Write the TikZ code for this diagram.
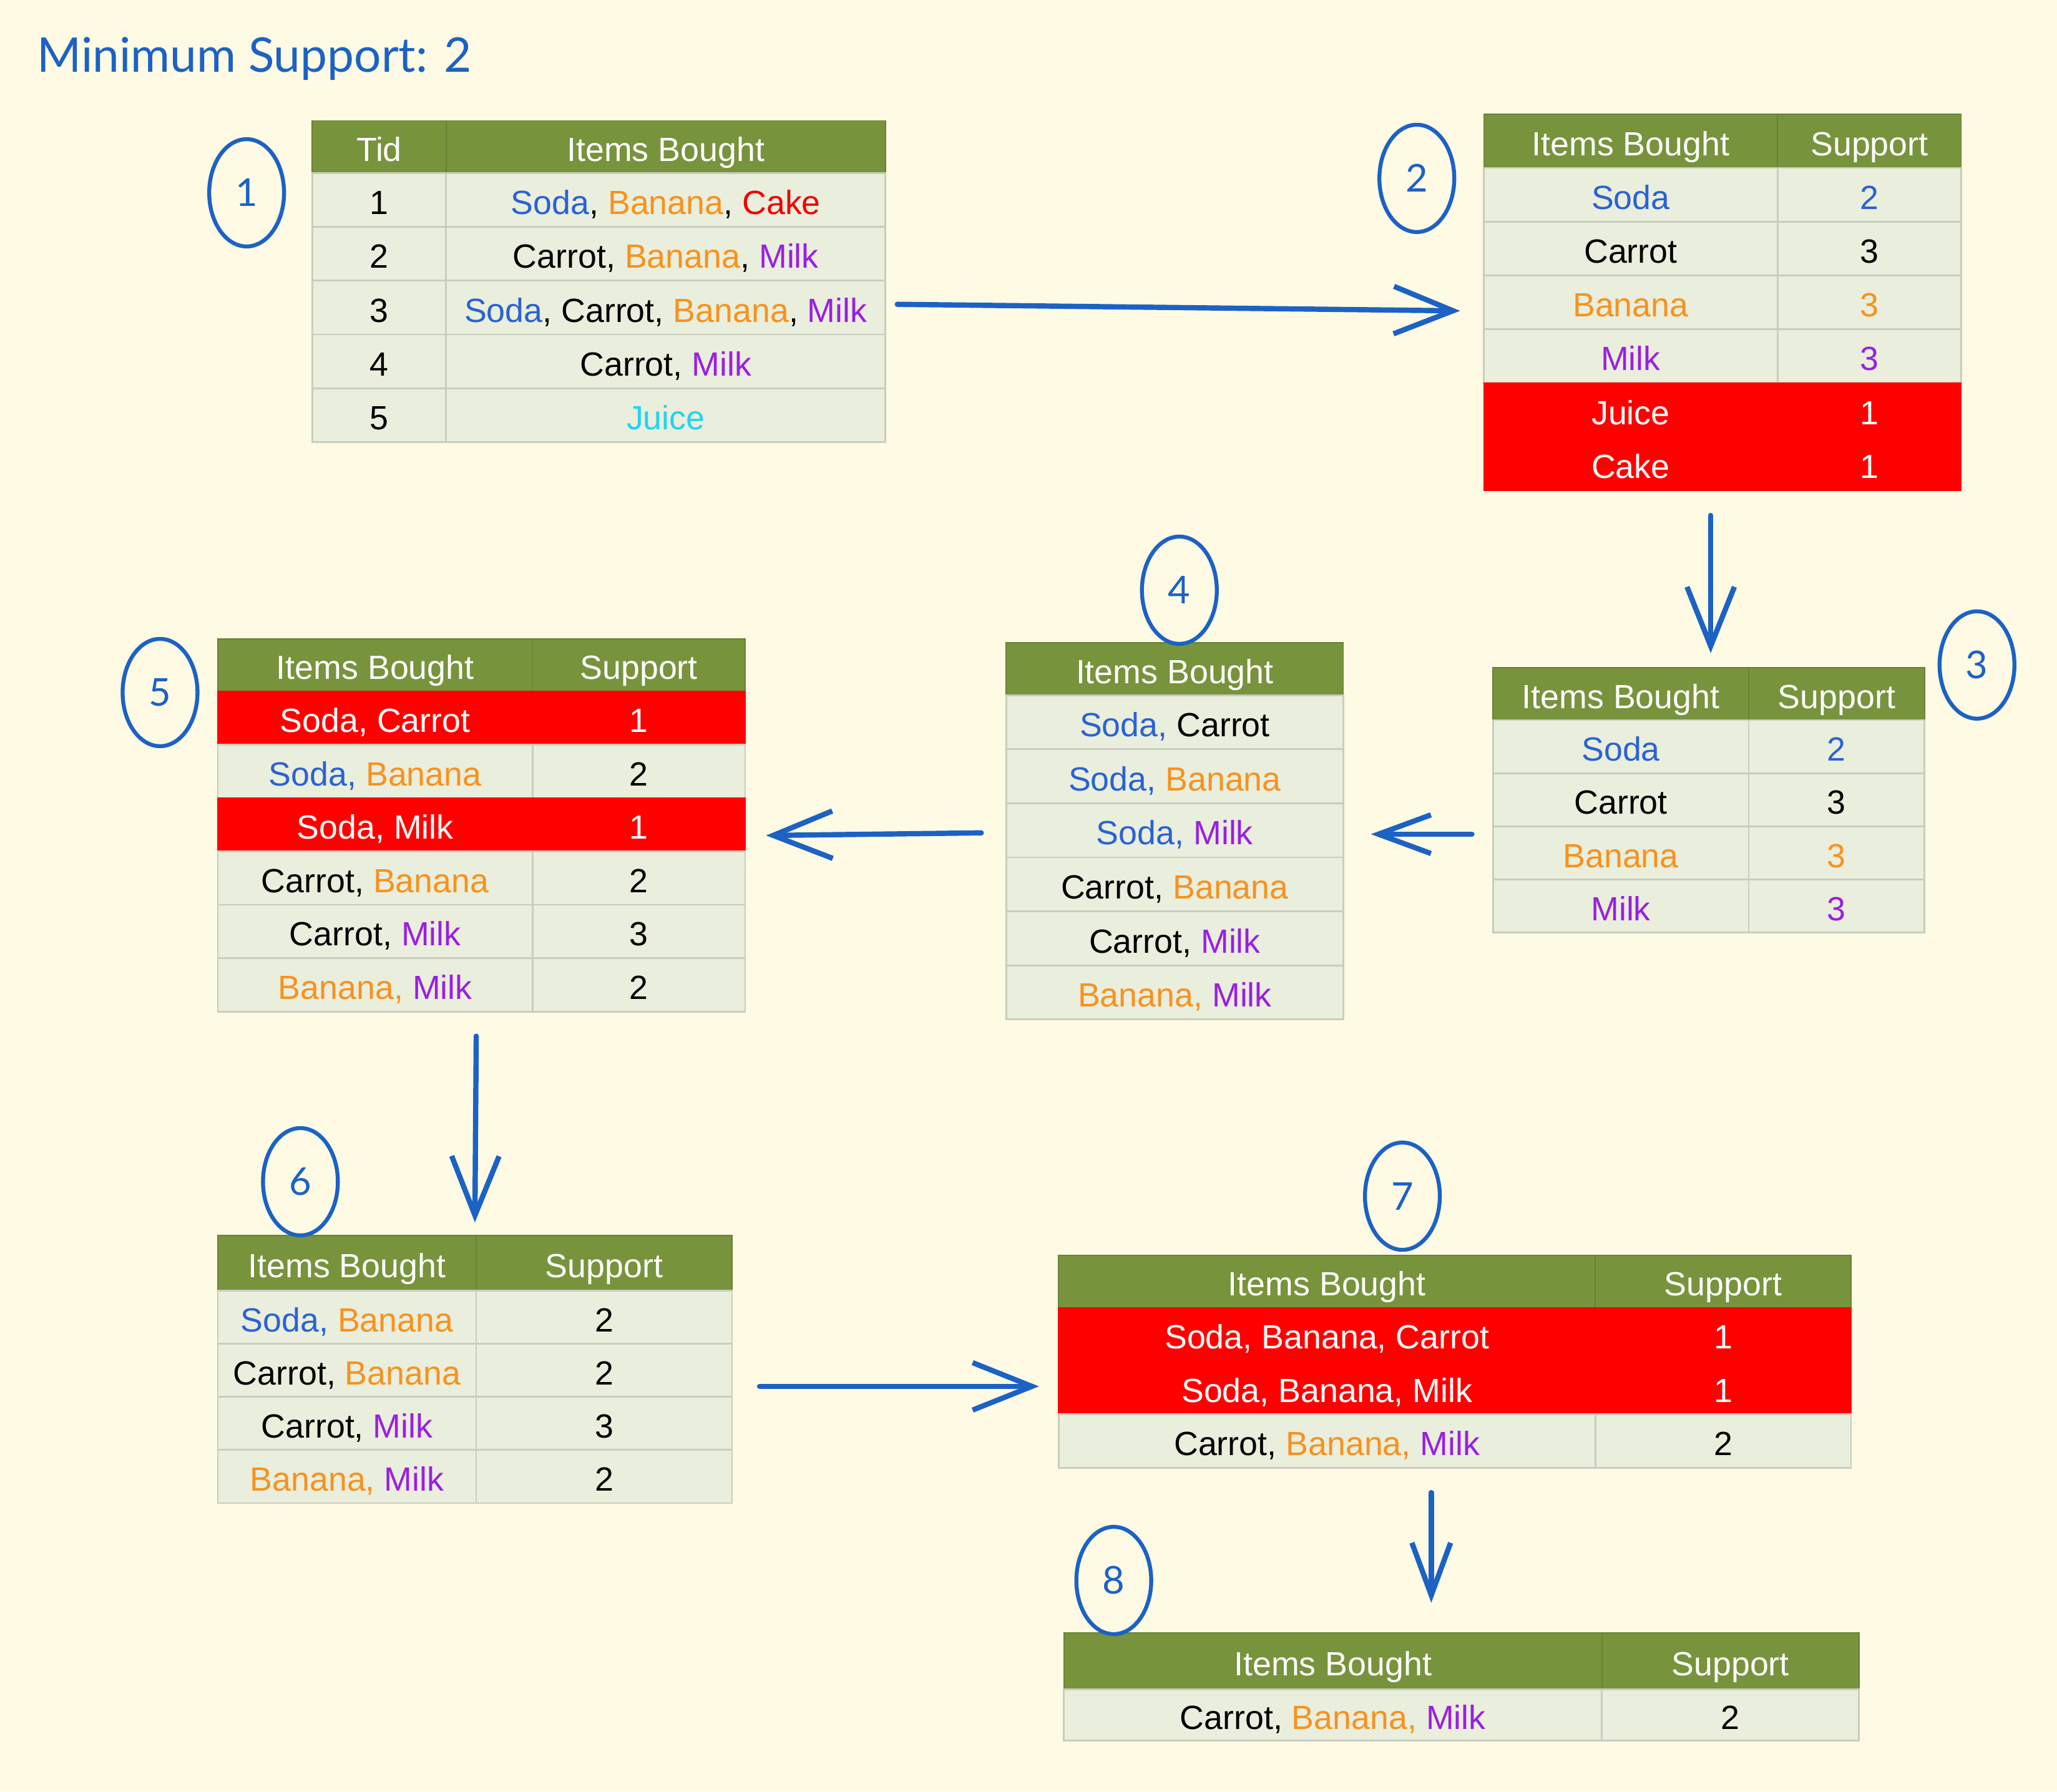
\documentclass[tikz,border=0pt]{standalone}
\usepackage{fontspec}
\setmainfont{Liberation Sans}
\newfontfamily\ringfont{Lato}
\usetikzlibrary{arrows.meta,shapes.geometric}

\definecolor{paper}{HTML}{FEFAE4}
\definecolor{headgreen}{HTML}{77933C}
\definecolor{rowgreen}{HTML}{EAEEDC}
\definecolor{rowline}{HTML}{C9CDBF}
\definecolor{cutred}{HTML}{FF0000}
\definecolor{penblue}{HTML}{1C62C4}
\definecolor{soda}{HTML}{2A62D4}
\definecolor{banana}{HTML}{F7921E}
\definecolor{milk}{HTML}{9A1FE2}
\definecolor{cake}{HTML}{F00000}
\definecolor{juice}{HTML}{25D2F2}

\newcommand{\ink}[2]{\textcolor{#1}{#2}}
% one table cell: name, x1, y1, x2, y2, style, text
\newcommand{\tcell}[7]{\path[#6] ({#2},{#3}) rectangle ({#4},{#5}) node[midway,celltext] (#1) {#7};}

\tikzset{
  hcell/.style={fill=headgreen, draw=headgreen!88!black, line width=0.5pt, every node/.style={text=white}},
  bcell/.style={fill=rowgreen, draw=rowline, line width=0.8pt},
  rcell/.style={fill=cutred, draw=cutred, line width=0.5pt, every node/.style={text=white}},
  celltext/.style={inner sep=0pt, text height=13.2pt, text depth=0pt, font=\fontsize{15.3}{18}\selectfont},
  numring/.style={ellipse, draw=penblue, line width=1.8pt, inner sep=0pt, minimum width=1.2cm, minimum height=1.72cm,
    text=penblue, text height=12.5pt, text depth=0pt, font=\ringfont\fontsize{17.5}{20}\selectfont},
  flow/.style={draw=penblue, line width=2.4pt, line cap=round, line join=round, -{Straight Barb[length=0.95cm, width=0.76cm]}},
  flowsmall/.style={flow, -{Straight Barb[length=0.84cm, width=0.62cm]}}
}

\begin{document}
\begin{tikzpicture}[x=0.02102cm, y=-0.02102cm]
\useasboundingbox (0,0) rectangle (1568,1366);
\fill[paper] (0,0) rectangle (1568,1366);

\node[anchor=base west, inner sep=0pt, text=penblue, font=\ringfont\fontsize{21.8}{26}\selectfont] (title) at (28,55) {Minimum Support: 2};

% 1: transactions
\tcell{t1h1}{238}{92}{340}{132}{hcell}{Tid}
\tcell{t1h2}{340}{92}{675}{132}{hcell}{Items Bought}
\foreach \i/\itm in {1/{\ink{soda}{Soda}, \ink{banana}{Banana}, \ink{cake}{Cake}},
    2/{Carrot, \ink{banana}{Banana}, \ink{milk}{Milk}},
    3/{\ink{soda}{Soda}, Carrot, \ink{banana}{Banana}, \ink{milk}{Milk}},
    4/{Carrot, \ink{milk}{Milk}},
    5/{\ink{juice}{Juice}}}{
  \tcell{t1a\i}{238}{132+41*(\i-1)}{340}{132+41*\i}{bcell}{\i}
  \tcell{t1b\i}{340}{132+41*(\i-1)}{675}{132+41*\i}{bcell}{\itm}
}

% 2: single items
\tcell{t2h1}{1131}{87}{1355}{128}{hcell}{Items Bought}
\tcell{t2h2}{1355}{87}{1495}{128}{hcell}{Support}
\foreach \i/\rowst/\itm/\cnt in {1/bcell/{\ink{soda}{Soda}}/{\ink{soda}{2}},
    2/bcell/Carrot/3,
    3/bcell/{\ink{banana}{Banana}}/{\ink{banana}{3}},
    4/bcell/{\ink{milk}{Milk}}/{\ink{milk}{3}},
    5/rcell/Juice/1,
    6/rcell/Cake/1}{
  \tcell{t2a\i}{1131}{128+41*(\i-1)}{1355}{128+41*\i}{\rowst}{\itm}
  \tcell{t2b\i}{1355}{128+41*(\i-1)}{1495}{128+41*\i}{\rowst}{\cnt}
}

% 3: frequent items
\tcell{t3h1}{1138}{509}{1333}{549}{hcell}{Items Bought}
\tcell{t3h2}{1333}{509}{1467}{549}{hcell}{Support}
\foreach \i/\itm/\cnt in {1/{\ink{soda}{Soda}}/{\ink{soda}{2}},
    2/Carrot/3,
    3/{\ink{banana}{Banana}}/{\ink{banana}{3}},
    4/{\ink{milk}{Milk}}/{\ink{milk}{3}}}{
  \tcell{t3a\i}{1138}{549+40.5*(\i-1)}{1333}{549+40.5*\i}{bcell}{\itm}
  \tcell{t3b\i}{1333}{549+40.5*(\i-1)}{1467}{549+40.5*\i}{bcell}{\cnt}
}

% 4: candidate pairs
\tcell{t4h}{767}{490}{1024}{530}{hcell}{Items Bought}
\foreach \i/\itm in {1/{\ink{soda}{Soda,} Carrot},
    2/{\ink{soda}{Soda,} \ink{banana}{Banana}},
    3/{\ink{soda}{Soda,} \ink{milk}{Milk}},
    4/{Carrot, \ink{banana}{Banana}},
    5/{Carrot, \ink{milk}{Milk}},
    6/{\ink{banana}{Banana,} \ink{milk}{Milk}}}{
  \tcell{t4a\i}{767}{530+41.2*(\i-1)}{1024}{530+41.2*\i}{bcell}{\itm}
}

% 5: pair counts
\tcell{t5h1}{166}{487}{406}{527}{hcell}{Items Bought}
\tcell{t5h2}{406}{487}{568}{527}{hcell}{Support}
\foreach \i/\rowst/\itm/\cnt in {1/rcell/{Soda, Carrot}/1,
    2/bcell/{\ink{soda}{Soda,} \ink{banana}{Banana}}/2,
    3/rcell/{Soda, Milk}/1,
    4/bcell/{Carrot, \ink{banana}{Banana}}/2,
    5/bcell/{Carrot, \ink{milk}{Milk}}/3,
    6/bcell/{\ink{banana}{Banana,} \ink{milk}{Milk}}/2}{
  \tcell{t5a\i}{166}{527+40.7*(\i-1)}{406}{527+40.7*\i}{\rowst}{\itm}
  \tcell{t5b\i}{406}{527+40.7*(\i-1)}{568}{527+40.7*\i}{\rowst}{\cnt}
}

% 6: frequent pairs
\tcell{t6h1}{166}{942}{363}{984}{hcell}{Items Bought}
\tcell{t6h2}{363}{942}{558}{984}{hcell}{Support}
\foreach \i/\itm/\cnt in {1/{\ink{soda}{Soda,} \ink{banana}{Banana}}/2,
    2/{Carrot, \ink{banana}{Banana}}/2,
    3/{Carrot, \ink{milk}{Milk}}/3,
    4/{\ink{banana}{Banana,} \ink{milk}{Milk}}/2}{
  \tcell{t6a\i}{166}{984+40.5*(\i-1)}{363}{984+40.5*\i}{bcell}{\itm}
  \tcell{t6b\i}{363}{984+40.5*(\i-1)}{558}{984+40.5*\i}{bcell}{\cnt}
}

% 7: triples
\tcell{t7h1}{807}{957}{1216}{997}{hcell}{Items Bought}
\tcell{t7h2}{1216}{957}{1411}{997}{hcell}{Support}
\foreach \i/\rowst/\itm/\cnt in {1/rcell/{Soda, Banana, Carrot}/1,
    2/rcell/{Soda, Banana, Milk}/1,
    3/bcell/{Carrot, \ink{banana}{Banana,} \ink{milk}{Milk}}/2}{
  \tcell{t7a\i}{807}{997+40.7*(\i-1)}{1216}{997+40.7*\i}{\rowst}{\itm}
  \tcell{t7b\i}{1216}{997+40.7*(\i-1)}{1411}{997+40.7*\i}{\rowst}{\cnt}
}

% 8: result
\tcell{t8h1}{811}{1245}{1221}{1288}{hcell}{Items Bought}
\tcell{t8h2}{1221}{1245}{1417}{1288}{hcell}{Support}
\tcell{t8a1}{811}{1288}{1221}{1327}{bcell}{Carrot, \ink{banana}{Banana,} \ink{milk}{Milk}}
\tcell{t8b1}{1221}{1288}{1417}{1327}{bcell}{2}

% step marks
\node[numring] (c1) at (188,147) {1};
\node[numring] (c2) at (1080,136) {2};
\node[numring] (c3) at (1507,507) {3};
\node[numring] (c4) at (899,450) {4};
\node[numring] (c5) at (122,528) {5};
\node[numring] (c6) at (229,901) {6};
\node[numring] (c7) at (1069,912) {7};
\node[numring] (c8) at (849,1205) {8};

% arrows
\coordinate (a1s) at (684,232);  \coordinate (a1e) at (1113,237);
\coordinate (a2s) at (1304,393); \coordinate (a2e) at (1304,498);
\coordinate (a3s) at (1122,636); \coordinate (a3e) at (1045,636);
\coordinate (a4s) at (748,635);  \coordinate (a4e) at (584,637);
\coordinate (a5s) at (363,790);  \coordinate (a5e) at (362,932);
\coordinate (a6s) at (579,1057); \coordinate (a6e) at (792,1057);
\coordinate (a7s) at (1091,1138); \coordinate (a7e) at (1091,1222);
\draw[flow] (a1s) -- (a1e);
\draw[flow] (a2s) -- (a2e);
\draw[flowsmall] (a3s) -- (a3e);
\draw[flow] (a4s) -- (a4e);
\draw[flow] (a5s) -- (a5e);
\draw[flow] (a6s) -- (a6e);
\draw[flowsmall] (a7s) -- (a7e);
\end{tikzpicture}
\end{document}
